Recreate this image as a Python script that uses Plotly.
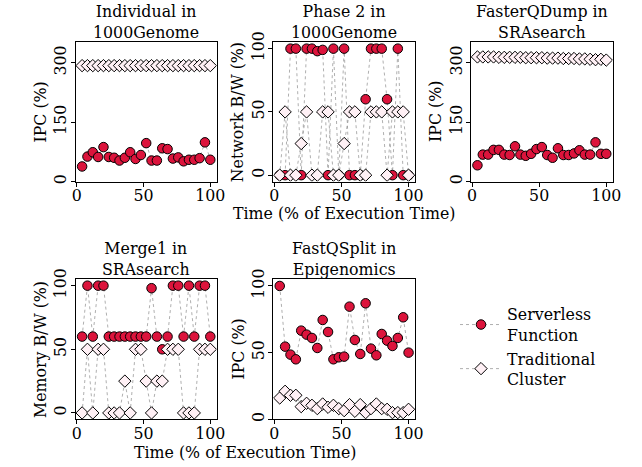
import plotly.graph_objects as go

# ---------------- data ----------------
time_pct = [4, 8, 12, 16, 20, 24, 28, 32, 36, 40, 44, 48, 52, 56, 60, 64, 68, 72, 76, 80, 84, 88, 92, 96, 100]

titles = ["Individual in<br>1000Genome", "Phase 2 in<br>1000Genome",
          "FasterQDump in<br>SRAsearch", "Merge1 in<br>SRAsearch",
          "FastQSplit in<br>Epigenomics"]
ylabels = ["IPC (%)", "Network B/W (%)", "IPC (%)", "Memory B/W (%)", "IPC (%)"]
series_names = ["Serverless<br>Function", "Traditional<br>Cluster"]

individual_serverless = [38, 63, 74, 62, 87, 62, 60, 53, 60, 74, 57, 67, 97, 53, 53, 84, 82, 58, 61, 51, 55, 55, 59, 99, 55]
individual_traditional = [293, 293, 293, 293, 293, 293, 293, 293, 293, 293, 293, 293, 293, 293, 293, 293, 293, 293, 293, 293, 293, 293, 293, 293, 293]

phase2_serverless = [0, 0, 100, 100, 0, 100, 100, 98, 99, 0, 100, 0, 100, 0, 0, 0, 60, 100, 100, 100, 60, 0, 100, 0, 0]
phase2_traditional = [0, 50, 0, 0, 25, 50, 0, 0, 50, 50, 0, 0, 25, 50, 50, 0, 0, 50, 50, 50, 0, 50, 50, 50, 0]

fasterq_serverless = [41, 68, 68, 80, 80, 68, 67, 89, 68, 65, 70, 82, 87, 67, 60, 84, 67, 67, 71, 79, 68, 68, 99, 70, 70]
fasterq_traditional = [315, 315, 315, 315, 314, 314, 314, 314, 314, 313, 313, 313, 313, 312, 312, 312, 311, 311, 311, 310, 310, 309, 308, 309, 307]

merge1_serverless = [60, 100, 60, 100, 100, 60, 60, 60, 60, 60, 60, 60, 60, 98, 60, 50, 60, 100, 100, 60, 100, 60, 100, 100, 60]
merge1_traditional = [0, 50, 0, 50, 50, 0, 0, 0, 25, 0, 50, 50, 25, 0, 25, 25, 50, 50, 50, 0, 0, 0, 50, 50, 50]

fastqsplit_serverless = [100, 54.5, 48.5, 45, 66.5, 63.5, 61, 53.5, 74.5, 65.5, 45, 46.5, 47, 84.5, 59.5, 49, 87, 53, 48, 64, 59, 55, 61, 76.5, 50]
fastqsplit_traditional = [16, 21, 18, 18, 9.5, 12, 10.5, 8, 11.5, 9, 10.5, 8, 6.5, 11, 6, 11, 5, 8, 11.5, 8, 7.5, 5, 5, 5, 7.5]

panels = [
    (individual_serverless, individual_traditional),
    (phase2_serverless, phase2_traditional),
    (fasterq_serverless, fasterq_traditional),
    (merge1_serverless, merge1_traditional),
    (fastqsplit_serverless, fastqsplit_traditional),
]
yticks = [[0, 150, 300], [0, 50, 100], [0, 150, 300], [0, 50, 100], [0, 50, 100]]
yranges = [[0, 352], [-5, 105], [0, 352], [-5, 105], [0, 105]]
xticks = [0, 50, 100]

# ---------------- layout geometry (pixels) ----------------
W, H = 642, 467
cols = [(75.7, 216.7), (273.3, 415.0), (471.0, 612.7)]
rows = [(42.3, 181.5), (279.3, 419.3)]
title_centers = [22.0, 258.7]
cells = [(0, 0), (0, 1), (0, 2), (1, 0), (1, 1)]

FONT = "DejaVu Serif"
FS = 15.8
RED = "#DC143C"
PINK = "#FFF0F5"
LINE = "rgba(120,120,120,0.75)"

fig = go.Figure()
layout = dict(
    template="none",
    width=W, height=H, margin=dict(l=0, r=0, t=0, b=0, pad=0, autoexpand=False),
    paper_bgcolor="white", plot_bgcolor="white",
    font=dict(family=FONT, size=FS, color="black"),
    showlegend=True,
)
annotations = []

for i, ((srv, trd), (r, c)) in enumerate(zip(panels, cells)):
    ax = "" if i == 0 else str(i + 1)
    x0, x1 = cols[c]
    top, bot = rows[r]
    fig.add_trace(go.Scatter(
        x=time_pct, y=srv, mode="lines+markers", name=series_names[0],
        xaxis="x" + ax, yaxis="y" + ax, showlegend=(i == 0), legendgroup="s",
        line=dict(color=LINE, width=0.8, dash="dot"),
        marker=dict(symbol="circle", size=9.5, color=RED, line=dict(color="black", width=1)),
    ))
    fig.add_trace(go.Scatter(
        x=time_pct, y=trd, mode="lines+markers", name=series_names[1],
        xaxis="x" + ax, yaxis="y" + ax, showlegend=(i == 0), legendgroup="t",
        line=dict(color=LINE, width=0.8, dash="dot"),
        marker=dict(symbol="diamond", size=9.5, color=PINK, line=dict(color="black", width=1)),
    ))
    common = dict(showline=True, linecolor="black", linewidth=1, mirror=True,
                  showgrid=False, zeroline=False, ticks="outside", ticklen=4,
                  tickwidth=1, tickcolor="black", automargin=False,
                  tickfont=dict(family=FONT, size=FS))
    layout["xaxis" + ax] = dict(domain=[x0 / W, x1 / W], range=[-0.8, 104.8],
                                tickvals=xticks, anchor="y" + ax,
                                ticklabelstandoff=-4, **common)
    layout["yaxis" + ax] = dict(domain=[1 - bot / H, 1 - top / H], range=yranges[i],
                                tickvals=yticks[i], tickangle=-90, anchor="x" + ax,
                                ticklabelstandoff=-2, **common)
    cx = (x0 + x1) / 2
    annotations.append(dict(text=titles[i], x=cx / W, y=1 - title_centers[r] / H,
                            xref="paper", yref="paper", showarrow=False,
                            xanchor="center", yanchor="middle", borderpad=0,
                            font=dict(family=FONT, size=FS)))
    annotations.append(dict(text=ylabels[i], x=(x0 - 35) / W, y=1 - ((top + bot) / 2) / H,
                            xref="paper", yref="paper", showarrow=False, textangle=-90,
                            xanchor="center", yanchor="middle", font=dict(family=FONT, size=FS)))

annotations.append(dict(text="Time (% of Execution Time)", x=344.2 / W, y=1 - 213.8 / H,
                        xref="paper", yref="paper", showarrow=False, xanchor="center",
                        yanchor="middle", font=dict(family=FONT, size=FS)))
annotations.append(dict(text="Time (% of Execution Time)", x=245.0 / W, y=1 - 452.2 / H,
                        xref="paper", yref="paper", showarrow=False, xanchor="center",
                        yanchor="middle", font=dict(family=FONT, size=FS)))

layout["annotations"] = annotations
layout["legend"] = dict(x=455 / W, y=1 - 297.5 / H, xanchor="left", yanchor="top",
                        bgcolor="rgba(0,0,0,0)", borderwidth=0,
                        font=dict(family=FONT, size=FS), tracegroupgap=0,
                        itemwidth=42)
fig.update_layout(**layout)
fig.write_html("out.html", config={"displayModeBar": False},
               post_script="document.body.style.margin='0px';document.body.style.padding='0px';")
